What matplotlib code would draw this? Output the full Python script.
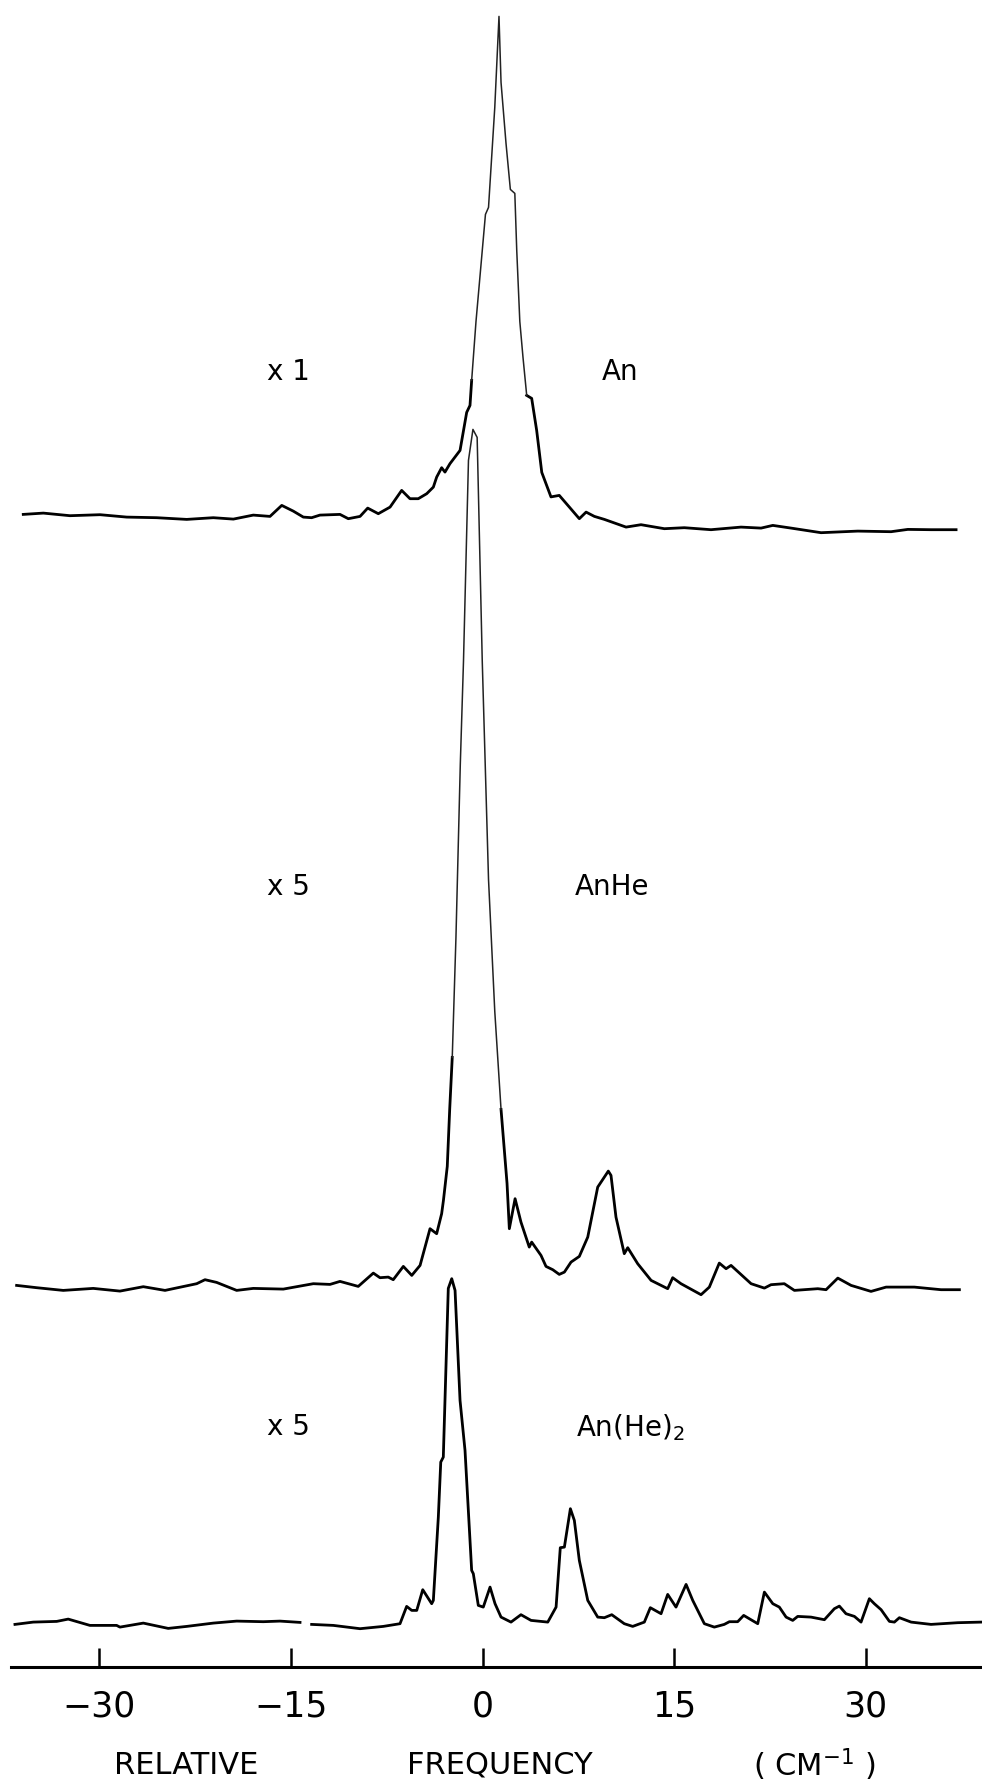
import numpy as np
import matplotlib.pyplot as plt

plt.rcParams['font.family'] = ['DejaVu Sans']

# Relative frequency (cm^-1) and recorder deflection (arbitrary units) for each scan
an_freq = [-35.96, -34.39, -32.30, -29.95, -27.86, -25.51, -23.16, -21.08, -19.51, -17.95,
           -16.64, -15.72, -14.82, -14.03, -13.38, -12.73, -11.16, -10.51, -9.59, -8.99,
           -8.16, -7.24, -6.33, -5.68, -5.03, -4.37, -3.85, -3.59, -3.20, -2.94,
           -2.55, -1.76, -1.24, -0.98, -0.85, -0.51, 0.23, 0.47, 0.96, 1.29,
           1.45, 1.84, 2.18, 2.53, 2.68, 2.92, 3.17, 3.46, 3.85, 4.24,
           4.64, 5.36, 6.01, 6.80, 7.58, 8.11, 8.76, 9.54, 11.24, 12.41,
           14.24, 15.80, 17.89, 20.24, 21.81, 22.73, 24.16, 26.51, 29.38, 31.99,
           33.30, 35.12, 37.08]
an_signal = [6, 7.3, 4.7, 5.7, 3.3, 2.7, 1, 2.7, 1.3, 5.3,
             4, 15, 9.3, 3.3, 2.7, 5.3, 6, 1.7, 4, 12.3,
             6.7, 13.3, 30, 21.7, 21.7, 26.7, 33.3, 43.3, 52.7, 48.3,
             56.7, 70, 108, 115, 140, 199, 306, 313, 413, 504,
             438, 377, 331, 327, 270, 199, 163, 125, 122, 90,
             48, 23.5, 25, 13.3, 1.7, 8.3, 4, 1, -6.7, -4.3,
             -8.3, -7.3, -9.3, -6.7, -7.7, -5, -7.7, -12.3, -10.7, -11.3,
             -9, -9.3, -9.3]

anhe_freq = [-36.48, -34.91, -32.83, -30.48, -28.39, -26.56, -24.86, -22.38, -21.73, -20.82,
             -19.25, -17.95, -15.60, -13.25, -11.94, -11.16, -9.73, -8.55, -8.03, -7.38,
             -6.99, -6.20, -5.54, -4.89, -4.11, -3.59, -3.20, -3.06, -2.76, -2.57,
             -2.37, -2.08, -1.74, -1.49, -1.10, -0.75, -0.42, -0.02, 0.47, 0.96,
             1.45, 1.71, 1.92, 2.10, 2.55, 3.01, 3.66, 3.85, 4.58, 4.97,
             5.50, 6.01, 6.41, 6.93, 7.58, 8.24, 9.02, 9.28, 9.85, 10.06,
             10.45, 11.10, 11.37, 12.15, 13.20, 14.50, 14.89, 15.54, 17.11, 17.76,
             18.54, 19.07, 19.46, 21.03, 22.07, 22.59, 23.63, 24.42, 26.25, 26.90,
             27.82, 28.86, 30.42, 31.60, 33.81, 35.90, 37.34]
anhe_signal = [5, 2.7, 0, 2, -0.7, 3.7, 0, 6.7, 10.7, 8,
               0, 2, 1.3, 6.7, 6, 9, 4, 17.3, 12.7, 13.3,
               10.7, 24, 15, 25, 61.7, 56.7, 76.7, 90, 124, 181,
               233, 353, 526, 629, 830, 861, 853, 629, 411, 279,
               181, 140, 107, 61.7, 91.7, 68.3, 43.3, 48.3, 35, 24,
               20.7, 16, 18.3, 28.3, 34, 53.3, 103.3, 108.3, 119.3, 115,
               73.3, 36.7, 42.7, 26.7, 10, 1.7, 12.7, 6.7, -4.3, 3.3,
               27.3, 21.7, 25, 6.7, 2.3, 5.7, 6.7, 0, 1.7, 0.7,
               12.3, 5, -1, 3.3, 3.3, 0.7, 0.7]

# the pen skipped briefly near -14 cm^-1 on this scan
anhe2_freq = [-36.61, -35.18, -33.34, -32.44, -30.74, -28.65, -28.39, -26.56, -24.61, -23.16,
              -21.08, -19.25, -17.17, -15.86, -14.29, np.nan, -13.38, -11.68, -9.59, -7.77,
              -6.46, -5.94, -5.54, -5.15, -4.68, -3.98, -3.85, -3.46, -3.27, -3.07,
              -2.68, -2.41, -2.15, -1.76, -1.37, -1.11, -0.85, -0.72, -0.33, 0.06,
              0.59, 0.98, 1.45, 2.23, 3.01, 3.80, 5.11, 5.76, 6.09, 6.41,
              6.88, 7.19, 7.58, 8.24, 9.02, 9.54, 10.12, 11.10, 11.76, 12.67,
              13.14, 13.98, 14.50, 15.15, 15.94, 16.46, 17.37, 18.15, 18.93, 19.33,
              19.98, 20.45, 21.55, 22.07, 22.73, 23.24, 23.77, 24.29, 24.68, 25.72,
              26.77, 27.55, 27.94, 28.46, 29.12, 29.64, 30.29, 30.68, 31.21, 31.86,
              32.25, 32.64, 33.56, 35.12, 37.21, 39.04]
anhe2_signal = [1, 3.3, 4, 6.3, 0, 0, -1.7, 2.3, -3, -1,
                2.3, 4.3, 3.7, 4.3, 3, np.nan, 1, 0, -3.3, -1,
                1.7, 19, 15, 15, 35.7, 21.7, 25, 108.3, 163.3, 168.3,
                337, 346.7, 335, 225, 175, 115, 55, 51.7, 20, 18.3,
                38.3, 21.7, 8.3, 3.3, 10.7, 5, 3.3, 18.3, 77.7, 78.3,
                116.7, 105, 65, 25, 8.3, 7.7, 10.7, 1.7, -1, 3.3,
                17.7, 11.7, 31, 18.3, 41, 25, 1.7, -1.7, 1, 3.7,
                3.7, 10, 1.7, 33.3, 21.7, 18.3, 8.3, 5, 9, 8.3,
                5.7, 16.7, 19.3, 11.7, 9, 3.3, 26.7, 21.7, 15.7, 4,
                3.3, 7.7, 3.3, 1, 2.7, 3.3]

tick_values = [-30, -15, 0, 15, 30]
tick_labels = ['\u221230', '\u221215', '0', '15', '30']
trace_names = ['An', 'AnHe', 'An(He)$_2$']
trace_gains = ['x 1', 'x 5', 'x 5']

# vertical placement of each scan above the frequency axis
trace_offsets = [1147, 377, 42]
# above this deflection the pen moved fast and left a fainter, thinner line
thin_levels = [150, 250, None]
label_heights = [1295, 780, 240]
name_x = [9.3, 7.2, 7.3]


def draw_trace(ax, freq, signal, offset, thin_above=None):
    x = np.asarray(freq, dtype=float)
    y = np.asarray(signal, dtype=float)
    if thin_above is None:
        ax.plot(x, y + offset, color='black', lw=2.0, solid_joinstyle='round')
        return
    high = y > thin_above
    # the thin part takes the neighbouring samples too, so the two pieces meet
    high_ext = high | np.roll(high, 1) | np.roll(high, -1)
    ax.plot(x, np.where(~high, y, np.nan) + offset, color='black', lw=2.0,
            solid_joinstyle='round')
    ax.plot(x, np.where(high_ext, y, np.nan) + offset, color='#222222', lw=1.1,
            solid_joinstyle='round')


fig = plt.figure(figsize=(9.82, 17.88), dpi=100)
ax = fig.add_axes([11 / 982, 120.6 / 1788, 1 - 11 / 982, 1667.4 / 1788])
ax.set_xlim(-36.92, 39.11)
ax.set_ylim(0, 1667.4)

scans = [(an_freq, an_signal), (anhe_freq, anhe_signal), (anhe2_freq, anhe2_signal)]
for (freq, signal), offset, level in zip(scans, trace_offsets, thin_levels):
    draw_trace(ax, freq, signal, offset, level)

for name, gain, h, nx in zip(trace_names, trace_gains, label_heights, name_x):
    ax.text(-16.9, h, gain, fontsize=20, ha='left', va='center')
    ax.text(nx, h, name, fontsize=20, ha='left', va='center')

for side in ['top', 'left', 'right']:
    ax.spines[side].set_visible(False)
ax.spines['bottom'].set_linewidth(2.2)
ax.set_yticks([])
ax.set_xticks(tick_values, tick_labels)
ax.tick_params(axis='x', direction='in', length=14, width=1.8, pad=16, labelsize=25)

# axis title spread across the bottom
fig.text(186 / 982, 23 / 1788, 'RELATIVE', fontsize=22, ha='center', va='center')
fig.text(500 / 982, 23 / 1788, 'FREQUENCY', fontsize=22, ha='center', va='center')
fig.text(814 / 982, 23 / 1788, '( CM$^{-1}$ )', fontsize=22, ha='center', va='center')

fig.savefig('out.png', dpi=100)
plt.close(fig)
